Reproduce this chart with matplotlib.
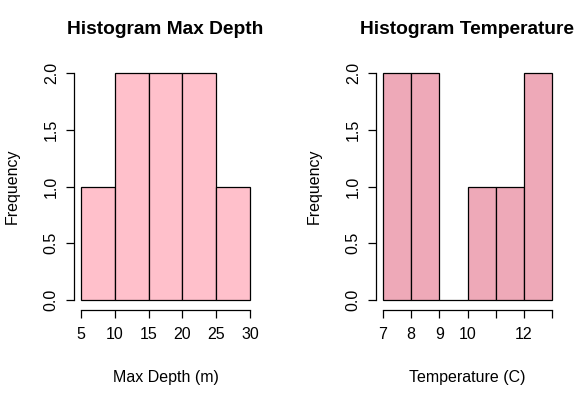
import numpy as np
import matplotlib
matplotlib.use("Agg")
import matplotlib.pyplot as plt

plt.rcParams['font.family'] = ['Liberation Sans', 'DejaVu Sans']

# Data
depth_edges = [5, 10, 15, 20, 25, 30]
depth_counts = [1, 2, 2, 2, 1]
depth_xticks = [5, 10, 15, 20, 25, 30]
depth_xticklabels = ['5', '10', '15', '20', '25', '30']

temp_edges = [7, 8, 9, 10, 11, 12, 13]
temp_counts = [2, 2, 0, 1, 1, 2]
temp_xticks = [7, 8, 9, 10, 11, 12, 13]
temp_xticklabels = ['7', '8', '9', '10', '', '12', '']

yticks = [0.0, 0.5, 1.0, 1.5, 2.0]
yticklabels = ['0.0', '0.5', '1.0', '1.5', '2.0']

W, H = 585, 396
fig = plt.figure(figsize=(W / 100, H / 100), dpi=100)


def px_axes(x0, x1, ytop, ybot):
    return fig.add_axes([x0 / W, 1 - ybot / H, (x1 - x0) / W, (ybot - ytop) / H])


def draw(ax, edges, counts, color, xticks, xticklabels, title, xlabel):
    edges = np.array(edges, dtype=float)
    bars = ax.bar(edges[:-1], counts, width=np.diff(edges), align='edge',
                  color=color, edgecolor='black', linewidth=0.9)
    for b in bars:
        b.set_clip_on(False)
    ax.set_xlim(edges[0], edges[-1])
    ax.set_ylim(0, 2)
    for s in ['top', 'right']:
        ax.spines[s].set_visible(False)
    ax.spines['left'].set_position(('outward', 5.0))
    ax.spines['bottom'].set_position(('outward', 7.2))
    ax.spines['left'].set_bounds(0, 2)
    ax.spines['bottom'].set_bounds(edges[0], edges[-1])
    for s in ['left', 'bottom']:
        ax.spines[s].set_linewidth(0.9)
    ax.set_xticks(xticks)
    ax.set_xticklabels(xticklabels)
    ax.set_yticks(yticks)
    ax.set_yticklabels(yticklabels, rotation=90, va='center')
    ax.tick_params(axis='both', length=6, width=0.9, labelsize=11.5, color='black')
    ax.tick_params(axis='x', pad=6)
    ax.tick_params(axis='y', pad=5)
    ax.set_title(title, fontsize=13.8, fontweight='bold', pad=28)
    ax.set_xlabel(xlabel, fontsize=11.5, labelpad=20.5)
    ax.set_ylabel('Frequency', fontsize=11.5, labelpad=17)
    ax.patch.set_visible(False)


ax1 = px_axes(81, 250, 73, 300)
draw(ax1, depth_edges, depth_counts, '#FFC0CB', depth_xticks, depth_xticklabels,
     'Histogram Max Depth', 'Max Depth (m)')

ax2 = px_axes(383, 552, 73, 300)
draw(ax2, temp_edges, temp_counts, '#EEA9B8', temp_xticks, temp_xticklabels,
     'Histogram Temperature', 'Temperature (C)')

fig.savefig('out.png', dpi=100)
